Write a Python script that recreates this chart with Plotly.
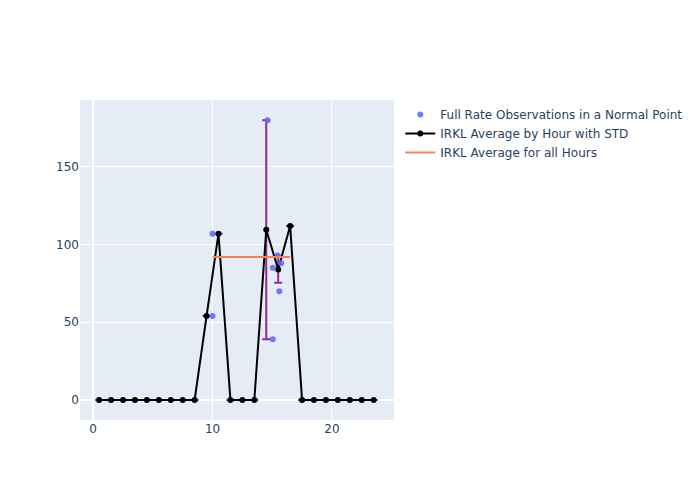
import plotly.graph_objects as go

obs_x = [10.0, 10.0, 14.6, 15.05, 15.05, 15.45, 15.75, 15.6]
obs_y = [107, 54, 180, 39, 85, 93, 88, 70]

hours = [h + 0.5 for h in range(24)]
avg = [0, 0, 0, 0, 0, 0, 0, 0, 0, 54, 107, 0, 0, 0, 109.5, 84, 112, 0, 0, 0, 0, 0, 0, 0]
std = [0, 0, 0, 0, 0, 0, 0, 0, 0, 0, 0, 0, 0, 0, 70.5, 8.6, 0, 0, 0, 0, 0, 0, 0, 0]

all_x = [10, 16.5]
all_avg = [92, 92]

fig = go.Figure()
fig.add_trace(go.Scatter(x=hours, y=avg, mode="lines+markers",
                         name="IRKL Average by Hour with STD", legendrank=2,
                         line=dict(color="black", width=2),
                         marker=dict(color="black", size=6),
                         error_y=dict(type="data", array=std, visible=True, color="#9325a0", width=4)))
fig.add_trace(go.Scatter(x=obs_x, y=obs_y, mode="markers",
                         name="Full Rate Observations in a Normal Point", legendrank=1,
                         marker=dict(color="#636EFA", size=6, opacity=0.9)))
fig.add_trace(go.Scatter(x=all_x, y=all_avg, mode="lines",
                         name="IRKL Average for all Hours", legendrank=3,
                         line=dict(color="coral", width=2)))
fig.update_layout(width=692, height=492,
                  margin=dict(l=72, t=92, b=80, r=80),
                  font=dict(family="DejaVu Sans"),
                  xaxis=dict(range=[-1.1, 25.2]),
                  yaxis=dict(range=[-12.9, 193]))
fig.write_html("out.html")
